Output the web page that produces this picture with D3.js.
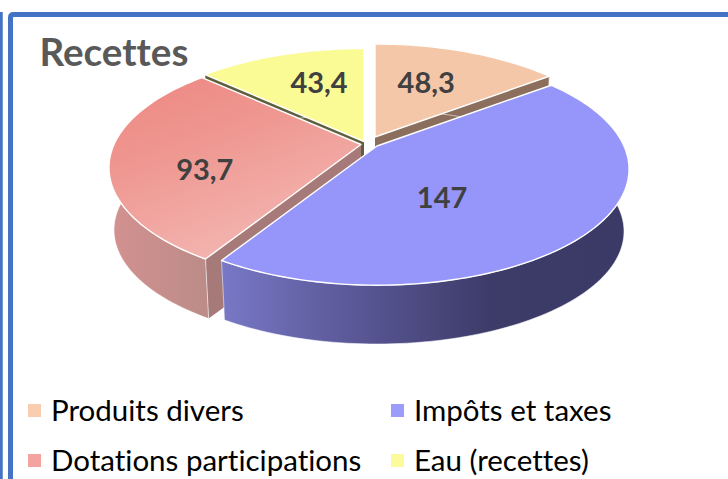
<!DOCTYPE html>
<html>
<head>
<meta charset="utf-8">
<script src="https://cdnjs.cloudflare.com/ajax/libs/d3/7.8.5/d3.min.js"></script>
<style>
html, body { margin: 0; padding: 0; background: #fff; }
svg { display: block; }
text { font-family: Lato, "Open Sans", sans-serif; font-variant-ligatures: none; }
</style>
</head>
<body>
<div id="chart"></div>
<script>
// values
var categories = ["Produits divers", "Impôts et taxes", "Dotations participations", "Eau (recettes)"];
var values = [48.3, 147, 93.7, 43.4];
var title = "Recettes";

var topColors = ["#f4c7a8", "#9696fa", "url(#redTop)", "#fbfb96"];
var legendColors = ["#f8cdb0", "#9c9cfb", "#f3a3a0", "#fbfb9c"];
var sideColors = ["#8b6f5c", "#5a5a9c", "#a67a78", "#5f5f3e"];
var wallColors = ["#8b6f5c", "url(#blueWall)", "url(#redWall)", "#5f5f3e"];

// how far each slice is pulled out of the pie, in px
var explodeX = [6, 8, -8, -5];
var explodeY = [-6, 3, 1.5, -1.5];

// label placement inside each slice: radius fraction, shift from the mid angle (deg)
var labelRadius = [0.584, 0.49, 0.643, 0.625];
var labelShift = [-3, 18.6, -12, 4.5];

var width = 728, height = 479;
var cx = 369, cy = 143;
var rx = 247, ry = 111.5, persp = 0.199;
var depth = 63, shrinkX = 0.98, shrinkY = 0.97;

var svg = d3.select("#chart").append("svg")
    .attr("width", width)
    .attr("height", height);

var defs = svg.append("defs");

function addGradient(id, x1, y1, x2, y2, stops) {
    var g = defs.append("linearGradient").attr("id", id)
        .attr("x1", x1).attr("y1", y1).attr("x2", x2).attr("y2", y2);
    stops.forEach(function(s) {
        g.append("stop").attr("offset", s[0]).attr("stop-color", s[1]);
    });
}
addGradient("redTop", 0.2, 0, 0.7, 1, [[0, "#ee8a84"], [0.35, "#ef9791"], [1, "#f4bab6"]]);
addGradient("redWall", 0, 0, 1, 0, [[0, "#d39190"], [1, "#bb8c88"]]);
addGradient("blueWall", 0, 0, 1, 0, [[0, "#7878c6"], [0.3, "#5c5a9a"], [0.66, "#3d3b68"], [1, "#3b3a66"]]);

// frame
svg.append("path")
    .attr("d", "M10.5,479V17.5Q10.5,14.5 13.5,14.5H728")
    .attr("fill", "none")
    .attr("stroke", "#4472c4")
    .attr("stroke-width", 5);
svg.append("path")
    .attr("d", "M1,479V12")
    .attr("fill", "none")
    .attr("stroke", "#4472c4")
    .attr("stroke-width", 3.5);

var pie = d3.pie().sort(null).value(function(d) { return d; });
var arcs = pie(values);

// circle position (angle clockwise from the top, radius fraction) -> screen, with perspective
function project(a, r, ax, ay) {
    var u = Math.sin(a) * r, v = Math.cos(a) * r;
    var w = 1 + persp * v;
    return [ax + rx * u / w, ay - ry * v / w];
}

function lower(p, ax, ay) {
    return [ax + (p[0] - ax) * shrinkX, ay + depth + (p[1] - ay) * shrinkY];
}

var line = d3.line();

function arcPoints(d, ax, ay) {
    var n = Math.max(12, Math.round((d.endAngle - d.startAngle) * 40));
    return d3.range(n + 1).map(function(i) {
        return project(d.startAngle + (d.endAngle - d.startAngle) * i / n, 1, ax, ay);
    });
}

// back slices first
var order = [3, 0, 2, 1];

var slices = svg.selectAll("g.slice")
    .data(order)
    .enter().append("g")
    .attr("class", "slice");

slices.each(function(i) {
    var d = arcs[i];
    var g = d3.select(this);
    var ax = cx + explodeX[i];
    var ay = cy + explodeY[i];
    var pts = arcPoints(d, ax, ay);
    var low = pts.map(function(p) { return lower(p, ax, ay); });
    var apex = [ax, ay];
    var apexLow = lower(apex, ax, ay);

    // radial side walls
    [pts[0], pts[pts.length - 1]].forEach(function(p) {
        g.append("path")
            .attr("d", line([apex, p, lower(p, ax, ay), apexLow]) + "Z")
            .attr("fill", sideColors[i])
            .attr("stroke", "none");
    });

    // outer wall
    g.append("path")
        .attr("d", line(pts.concat(low.slice().reverse())) + "Z")
        .attr("fill", wallColors[i])
        .attr("stroke", "#fff")
        .attr("stroke-opacity", 0.7)
        .attr("stroke-width", 0.8);

    // top face
    g.append("path")
        .attr("d", line([apex].concat(pts)) + "Z")
        .attr("fill", topColors[i])
        .attr("stroke", "#fff")
        .attr("stroke-width", 1.4)
        .attr("stroke-linejoin", "round");
});

// data labels
var numFormat = d3.formatLocale({decimal: ",", thousands: " ", grouping: [3], currency: ["", ""]}).format("~r");

svg.selectAll("text.value")
    .data(arcs)
    .enter().append("text")
    .attr("class", "value")
    .attr("transform", function(d, i) {
        var mid = (d.startAngle + d.endAngle) / 2;
        var p = project(mid + labelShift[i] * Math.PI / 180, labelRadius[i], cx + explodeX[i], cy + explodeY[i]);
        return "translate(" + p[0] + "," + p[1] + ")";
    })
    .attr("text-anchor", "middle")
    .attr("dy", "0.35em")
    .attr("font-size", 29)
    .attr("font-weight", 700)
    .attr("fill", "#404040")
    .text(function(d) { return numFormat(d.value); });

// title
svg.append("text")
    .attr("x", 39.5)
    .attr("y", 66)
    .attr("font-size", 38.6)
    .attr("font-weight", 700)
    .attr("fill", "#595959")
    .text(title);

// legend
var legendX = d3.scaleOrdinal().domain([0, 1]).range([28, 391]);
var legendY = d3.scaleOrdinal().domain([0, 1]).range([410.5, 460.5]);

var legend = svg.selectAll("g.legend")
    .data(categories)
    .enter().append("g")
    .attr("class", "legend")
    .attr("transform", function(d, i) {
        return "translate(" + legendX(i % 2) + "," + legendY(Math.floor(i / 2)) + ")";
    });

legend.append("rect")
    .attr("x", 0)
    .attr("y", -6.5)
    .attr("width", 13)
    .attr("height", 13)
    .attr("fill", function(d, i) { return legendColors[i]; });

legend.append("text")
    .attr("x", 23)
    .attr("y", 10)
    .attr("font-size", 29.5)
    .attr("fill", "#000")
    .text(function(d) { return d; });
</script>
</body>
</html>
